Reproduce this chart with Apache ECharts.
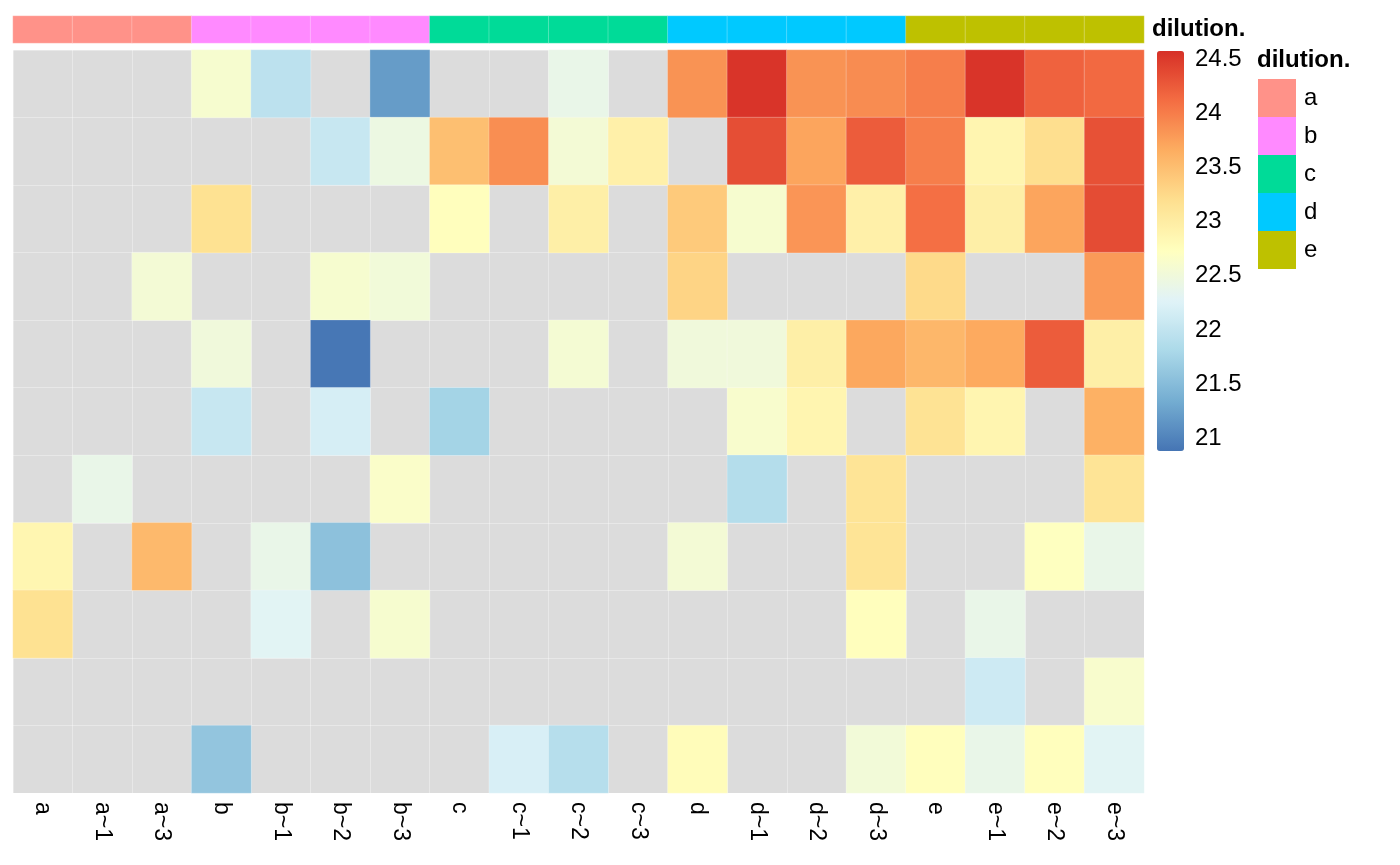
<!DOCTYPE html>
<html>
<head>
    <meta charset="utf-8" />
    <title>dilution heatmap</title>
    <script src="https://cdn.jsdelivr.net/npm/echarts@6/dist/echarts.min.js"></script>
</head>
<body style="margin:0">
    <div id="main" style="width: 1400px;height:865px;"></div>
    <script type="text/javascript">
        var myChart = echarts.init(document.getElementById('main'));

        // columns and their dilution group
        const columns = ['a', 'a~1', 'a~3', 'b', 'b~1', 'b~2', 'b~3', 'c', 'c~1', 'c~2', 'c~3',
            'd', 'd~1', 'd~2', 'd~3', 'e', 'e~1', 'e~2', 'e~3'];
        const columnGroup = [0, 0, 0, 1, 1, 1, 1, 2, 2, 2, 2, 3, 3, 3, 3, 4, 4, 4, 4];
        const groups = ['a', 'b', 'c', 'd', 'e'];
        const groupColors = ['#FF9289', '#FF8AFF', '#00DB98', '#00C9FF', '#BEC100'];

        // one row per line, null = missing (grey)
        const row1 = [null, null, null, 22.6, 21.95, null, 21.2, null, null, 22.4, null, 23.85, 24.55, 23.85, 23.9, 24.0, 24.55, 24.2, 24.15];
        const row2 = [null, null, null, null, null, 22.05, 22.45, 23.5, 23.88, 22.55, 22.95, null, 24.35, 23.72, 24.25, 24.0, 22.88, 23.2, 24.33];
        const row3 = [null, null, null, 23.17, null, null, null, 22.75, null, 22.97, null, 23.4, 22.6, 23.83, 22.95, 24.1, 22.97, 23.72, 24.37];
        const row4 = [null, null, 22.55, null, null, 22.6, 22.52, null, null, null, null, 23.3, null, null, null, 23.25, null, null, 23.8];
        const row5 = [null, null, null, 22.5, null, 20.9, null, null, null, 22.57, null, 22.5, 22.5, 22.97, 23.7, 23.57, 23.68, 24.25, 22.97];
        const row6 = [null, null, null, 22.05, null, 22.18, null, 21.75, null, null, null, null, 22.62, 22.88, null, 23.15, 22.88, null, 23.63];
        const row7 = [null, 22.4, null, null, null, null, 22.65, null, null, null, null, null, 21.88, null, 23.13, null, null, null, 23.13];
        const row8 = [22.87, null, 23.55, null, 22.4, 21.55, null, null, null, null, null, 22.55, null, null, 23.13, null, null, 22.72, 22.4];
        const row9 = [23.17, null, null, null, 22.3, null, 22.6, null, null, null, null, null, null, null, 22.75, null, 22.4, null, null];
        const row10 = [null, null, null, null, null, null, null, null, null, null, null, null, null, null, null, null, 22.1, null, 22.62];
        const row11 = [null, null, null, 21.6, null, null, null, null, 22.2, 21.9, null, 22.78, null, null, 22.53, 22.75, 22.4, 22.75, 22.3];
        const rows = [row1, row2, row3, row4, row5, row6, row7, row8, row9, row10, row11];

        const colorTicks = [21, 21.5, 22, 22.5, 23, 23.5, 24, 24.5];
        const scaleMin = 20.88;
        const scaleMax = 24.58;
        const palette = ['#4575b4', '#74add1', '#abd9e9', '#e0f3f8', '#ffffbf', '#fee090', '#fdae61', '#f46d43', '#d73027'];

        var cellData = [];
        rows.forEach(function (r, ri) {
            r.forEach(function (v, ci) {
                if (v !== null) cellData.push([ci, ri, v]);
            });
        });
        var annoData = columns.map(function (c, i) { return [i, 0, columnGroup[i]]; });

        const font = 'Liberation Sans, Arial, sans-serif';

        var option = {
            animation: false,
            title: {
                text: 'dilution.',
                left: 1257,
                top: 48,
                padding: 0,
                textStyle: { fontSize: 24, fontWeight: 'bold', fontFamily: font, color: '#000' }
            },
            grid: [
                { left: 13, top: 50, width: 1131, height: 743, show: true, backgroundColor: '#dcdcdc', borderWidth: 0 },
                { left: 13, top: 16, width: 1131, height: 27, show: false },
                { left: 1157, top: 51, width: 27, height: 400, show: false }
            ],
            xAxis: [
                {
                    type: 'category', gridIndex: 0, data: columns, position: 'bottom',
                    axisLine: { show: false }, axisTick: { show: false },
                    axisLabel: { rotate: -90, margin: 9, fontSize: 23, fontFamily: font, color: '#000', interval: 0 },
                    splitLine: { show: true, interval: 0, lineStyle: { color: 'rgba(255,255,255,0.35)', width: 1 } }
                },
                { type: 'category', gridIndex: 1, data: columns, show: false },
                { type: 'value', gridIndex: 2, show: false }
            ],
            yAxis: [
                {
                    type: 'category', gridIndex: 0, inverse: true,
                    data: rows.map(function (r, i) { return String(i + 1); }),
                    axisLine: { show: false }, axisTick: { show: false }, axisLabel: { show: false },
                    splitLine: { show: true, interval: 0, lineStyle: { color: 'rgba(255,255,255,0.35)', width: 1 } }
                },
                {
                    type: 'category', gridIndex: 1, data: ['dilution.'], position: 'right',
                    axisLine: { show: false }, axisTick: { show: false },
                    axisLabel: { margin: 8, fontSize: 24, fontWeight: 'bold', fontFamily: font, color: '#000' }
                },
                {
                    type: 'value', gridIndex: 2, position: 'right', min: scaleMin, max: scaleMax,
                    axisLine: { show: false }, axisTick: { show: false }, splitLine: { show: false },
                    axisLabel: {
                        customValues: colorTicks, margin: 11, fontSize: 24, fontFamily: font, color: '#000',
                        formatter: function (v) { return String(v); }
                    }
                }
            ],
            visualMap: [
                {
                    type: 'continuous', seriesIndex: 0, min: scaleMin, max: scaleMax,
                    inRange: { color: palette },
                    left: 1157, top: 51, itemWidth: 27, itemHeight: 400, padding: 0,
                    calculable: false, hoverLink: false, text: null, showLabel: false
                },
                {
                    type: 'piecewise', seriesIndex: 1, orient: 'vertical', inverse: true, align: 'left',
                    left: 1258, top: 79, padding: 0, itemWidth: 38, itemHeight: 38, itemGap: 0,
                    itemSymbol: 'rect', textGap: 8, hoverLink: false, selectedMode: false,
                    textStyle: { fontSize: 24, fontFamily: font, color: '#000' },
                    pieces: groups.map(function (g, i) { return { value: i, label: g, color: groupColors[i] }; })
                }
            ],
            series: [
                {
                    type: 'heatmap', xAxisIndex: 0, yAxisIndex: 0, data: cellData,
                    itemStyle: { borderColor: 'rgba(255,255,255,0.25)', borderWidth: 1 },
                    emphasis: { disabled: true }
                },
                {
                    type: 'heatmap', xAxisIndex: 1, yAxisIndex: 1, data: annoData,
                    itemStyle: { borderColor: 'rgba(255,255,255,0.25)', borderWidth: 1 },
                    emphasis: { disabled: true }
                }
            ]
        };

        myChart.setOption(option);
    </script>
</body>
</html>
